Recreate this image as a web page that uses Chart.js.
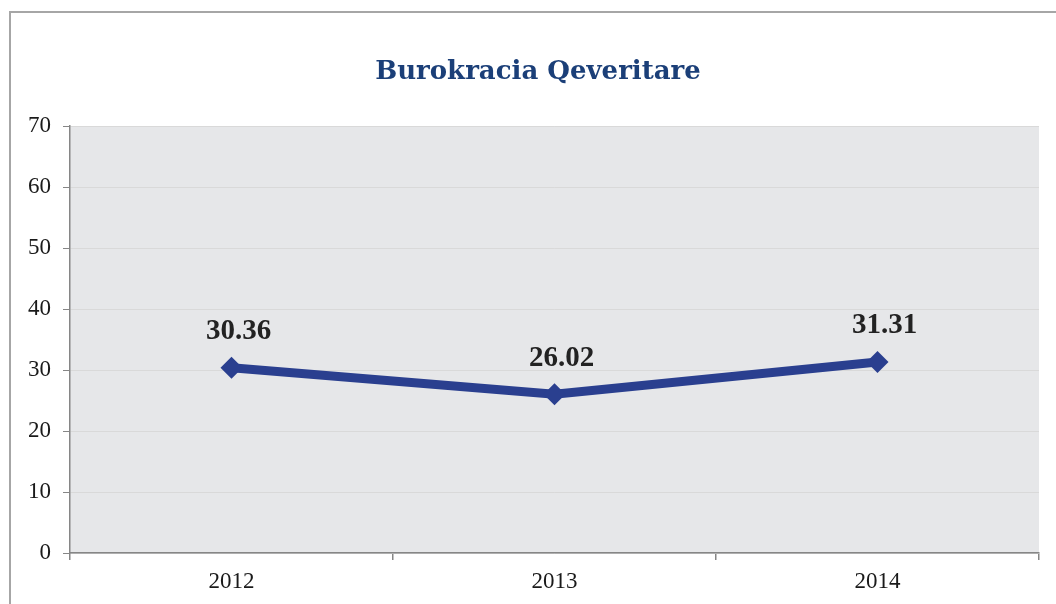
<!DOCTYPE html>
<html>
<head>
<meta charset="utf-8">
<script src="https://cdn.jsdelivr.net/npm/chart.js@4.4.0/dist/chart.umd.min.js"></script>
<style>
  html, body { margin: 0; padding: 0; background: #fff; }
  #wrap { width: 1056px; height: 604px; }
</style>
</head>
<body>
<div id="wrap"><canvas id="chart" width="1056" height="604"></canvas></div>
<script>
const years = ['2012', '2013', '2014'];
const values = [30.36, 26.02, 31.31];
const valueLabels = ['30.36', '26.02', '31.31'];
const chartTitle = 'Burokracia Qeveritare';
const yMin = 0;
const yMax = 70;
const yStep = 10;

const serif = "'Liberation Serif', 'DejaVu Serif', serif";

// grey frame, title and plot background
const framePlugin = {
  id: 'frame',
  beforeDraw(chart) {
    const ctx = chart.ctx;
    const a = chart.chartArea;
    ctx.save();
    ctx.fillStyle = '#fff';
    ctx.fillRect(0, 0, chart.width, chart.height);
    ctx.strokeStyle = '#A6A6A6';
    ctx.lineWidth = 2;
    ctx.beginPath();
    ctx.moveTo(10, chart.height);
    ctx.lineTo(10, 12);
    ctx.lineTo(chart.width, 12);
    ctx.stroke();
    ctx.fillStyle = '#E6E7E9';
    ctx.fillRect(a.left, a.top, a.right - a.left, a.bottom - a.top);
    // title sits a bit right of centre, like the original
    ctx.font = "bold 26px 'DejaVu Serif', serif";
    ctx.fillStyle = '#1B3F78';
    ctx.textAlign = 'center';
    ctx.textBaseline = 'middle';
    ctx.fillText(chartTitle, 538, 72);
    ctx.restore();
  }
};

// value labels above the points
const labelPlugin = {
  id: 'valueLabels',
  afterDatasetsDraw(chart) {
    const ctx = chart.ctx;
    const meta = chart.getDatasetMeta(0);
    ctx.save();
    ctx.font = "bold 29px " + serif;
    ctx.fillStyle = '#222';
    ctx.textAlign = 'center';
    ctx.textBaseline = 'middle';
    meta.data.forEach((pt, i) => {
      ctx.fillText(valueLabels[i], pt.x + 7, pt.y - 36);
    });
    ctx.restore();
  }
};

new Chart(document.getElementById('chart'), {
  type: 'line',
  data: {
    labels: years,
    datasets: [{
      data: values,
      borderColor: '#2A3F8F',
      backgroundColor: '#2A3F8F',
      borderWidth: 9,
      pointStyle: 'rectRot',
      pointRadius: 11,
      pointBackgroundColor: '#2A3F8F',
      pointBorderWidth: 0,
      tension: 0
    }]
  },
  options: {
    responsive: false,
    animation: false,
    layout: { padding: { top: 126, left: 0, right: 17, bottom: 0 } },
    plugins: {
      legend: { display: false },
      tooltip: { enabled: false },
      title: { display: false }
    },
    scales: {
      x: {
        offset: true,
        grid: {
          offset: true,
          drawOnChartArea: false,
          tickColor: '#868686',
          tickLength: 7,
          lineWidth: 1.5
        },
        border: { color: '#868686', width: 1.5 },
        ticks: {
          color: '#1a1a1a',
          font: { family: serif, size: 23 },
          padding: 8
        },
        afterFit(scale) { scale.height = 51; }
      },
      y: {
        min: yMin,
        max: yMax,
        grid: {
          color: '#D9D9D9',
          tickColor: '#868686',
          tickLength: 7,
          lineWidth: 1
        },
        border: { color: '#868686', width: 1.5 },
        ticks: {
          stepSize: yStep,
          color: '#1a1a1a',
          font: { family: serif, size: 23 },
          padding: 12
        },
        afterFit(scale) { scale.width = 70; }
      }
    }
  },
  plugins: [framePlugin, labelPlugin]
});
</script>
</body>
</html>
